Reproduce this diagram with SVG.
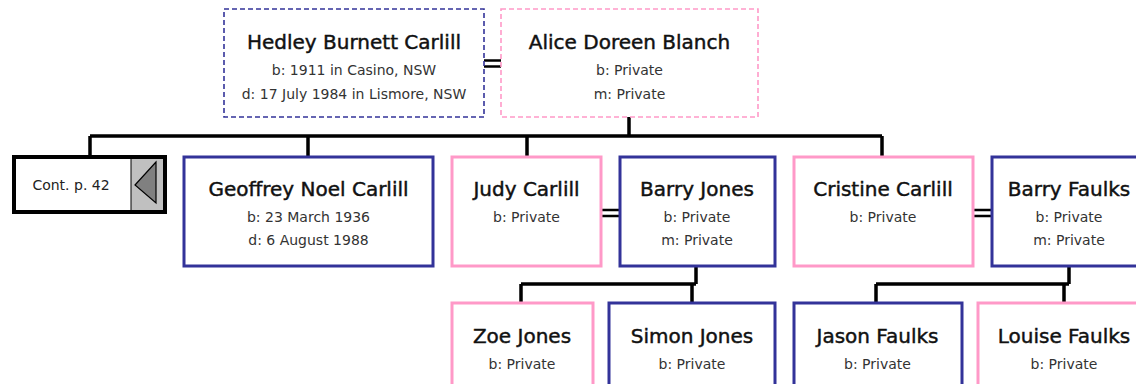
<svg xmlns="http://www.w3.org/2000/svg" width="1136" height="384" viewBox="0 0 1136 384">
<style>
.m{fill:#fff;stroke:#333399;stroke-width:3}
.f{fill:#fff;stroke:#ff99c8;stroke-width:3}
.md{fill:#fff;stroke:#333399;stroke-width:1.6;stroke-dasharray:5 3}
.fd{fill:#fff;stroke:#ff99c8;stroke-width:1.6;stroke-dasharray:5 3}
.n{font-family:"DejaVu Sans",sans-serif;font-size:20px;fill:#111;stroke:#111;stroke-width:0.45;text-anchor:middle}
.d{font-family:"DejaVu Sans",sans-serif;font-size:14px;fill:#333;text-anchor:middle}
.c{fill:none;stroke:#000;stroke-width:3.5}
.e{fill:none;stroke:#000;stroke-width:2.5}
</style>
<g id="connectors">
<path class="e" d="M484 60.5H501M484 66.5H501"/>
<path class="c" d="M629 117V136M90 136H882M90 136V156M308 136V156M527 136V156M882 136V156"/>
<path class="e" d="M601 210H619M601 216H619"/>
<path class="e" d="M973 210H991M973 216H991"/>
<path class="c" d="M696 266V284M521 284H696M521 284V302M692 284V302"/>
<path class="c" d="M1069 266V284M876 284H1069M876 284V302M1064 284V302"/>
</g>
<g id="hedley">
<rect class="md" x="224" y="9" width="260" height="108"/>
<text class="n" x="354" y="49">Hedley Burnett Carlill</text>
<text class="d" x="354" y="75">b: 1911 in Casino, NSW</text>
<text class="d" x="354" y="99">d: 17 July 1984 in Lismore, NSW</text>
</g>
<g id="alice">
<rect class="fd" x="501" y="9" width="257" height="108"/>
<text class="n" x="629.5" y="49">Alice Doreen Blanch</text>
<text class="d" x="629.5" y="75">b: Private</text>
<text class="d" x="629.5" y="99">m: Private</text>
</g>
<g id="cont">
<rect x="14" y="157" width="151" height="55" fill="#fff" stroke="#000" stroke-width="4"/>
<rect x="131" y="159" width="32" height="51" fill="#c0c0c0"/>
<line x1="131" y1="157" x2="131" y2="212" stroke="#000" stroke-width="1"/>
<polygon points="156,162 135,185 156,203" fill="#808080" stroke="#000" stroke-width="1.2"/>
<text x="71" y="190" font-family="DejaVu Sans,sans-serif" font-size="14px" fill="#222" text-anchor="middle">Cont. p. 42</text>
</g>
<g id="geoffrey">
<rect class="m" x="184" y="157" width="249" height="109"/>
<text class="n" x="308.5" y="196">Geoffrey Noel Carlill</text>
<text class="d" x="308.5" y="222">b: 23 March 1936</text>
<text class="d" x="308.5" y="245">d: 6 August 1988</text>
</g>
<g id="judy">
<rect class="f" x="452" y="157" width="149" height="109"/>
<text class="n" x="526.5" y="196">Judy Carlill</text>
<text class="d" x="526.5" y="222">b: Private</text>
</g>
<g id="barryjones">
<rect class="m" x="620" y="157" width="155" height="109"/>
<text class="n" x="697" y="196">Barry Jones</text>
<text class="d" x="697" y="222">b: Private</text>
<text class="d" x="697" y="245">m: Private</text>
</g>
<g id="cristine">
<rect class="f" x="794" y="157" width="179" height="109"/>
<text class="n" x="883" y="196">Cristine Carlill</text>
<text class="d" x="883" y="222">b: Private</text>
</g>
<g id="barryfaulks">
<rect class="m" x="992" y="157" width="155" height="109"/>
<text class="n" x="1069" y="196">Barry Faulks</text>
<text class="d" x="1069" y="222">b: Private</text>
<text class="d" x="1069" y="245">m: Private</text>
</g>
<g id="zoe">
<rect class="f" x="452" y="303" width="141" height="100"/>
<text class="n" x="522" y="343">Zoe Jones</text>
<text class="d" x="522" y="369">b: Private</text>
</g>
<g id="simon">
<rect class="m" x="609" y="303" width="166" height="100"/>
<text class="n" x="692" y="343">Simon Jones</text>
<text class="d" x="692" y="369">b: Private</text>
</g>
<g id="jason">
<rect class="m" x="794" y="303" width="168" height="100"/>
<text class="n" x="877.5" y="343">Jason Faulks</text>
<text class="d" x="877.5" y="369">b: Private</text>
</g>
<g id="louise">
<rect class="f" x="978" y="303" width="172" height="100"/>
<text class="n" x="1064" y="343">Louise Faulks</text>
<text class="d" x="1064" y="369">b: Private</text>
</g>
</svg>
